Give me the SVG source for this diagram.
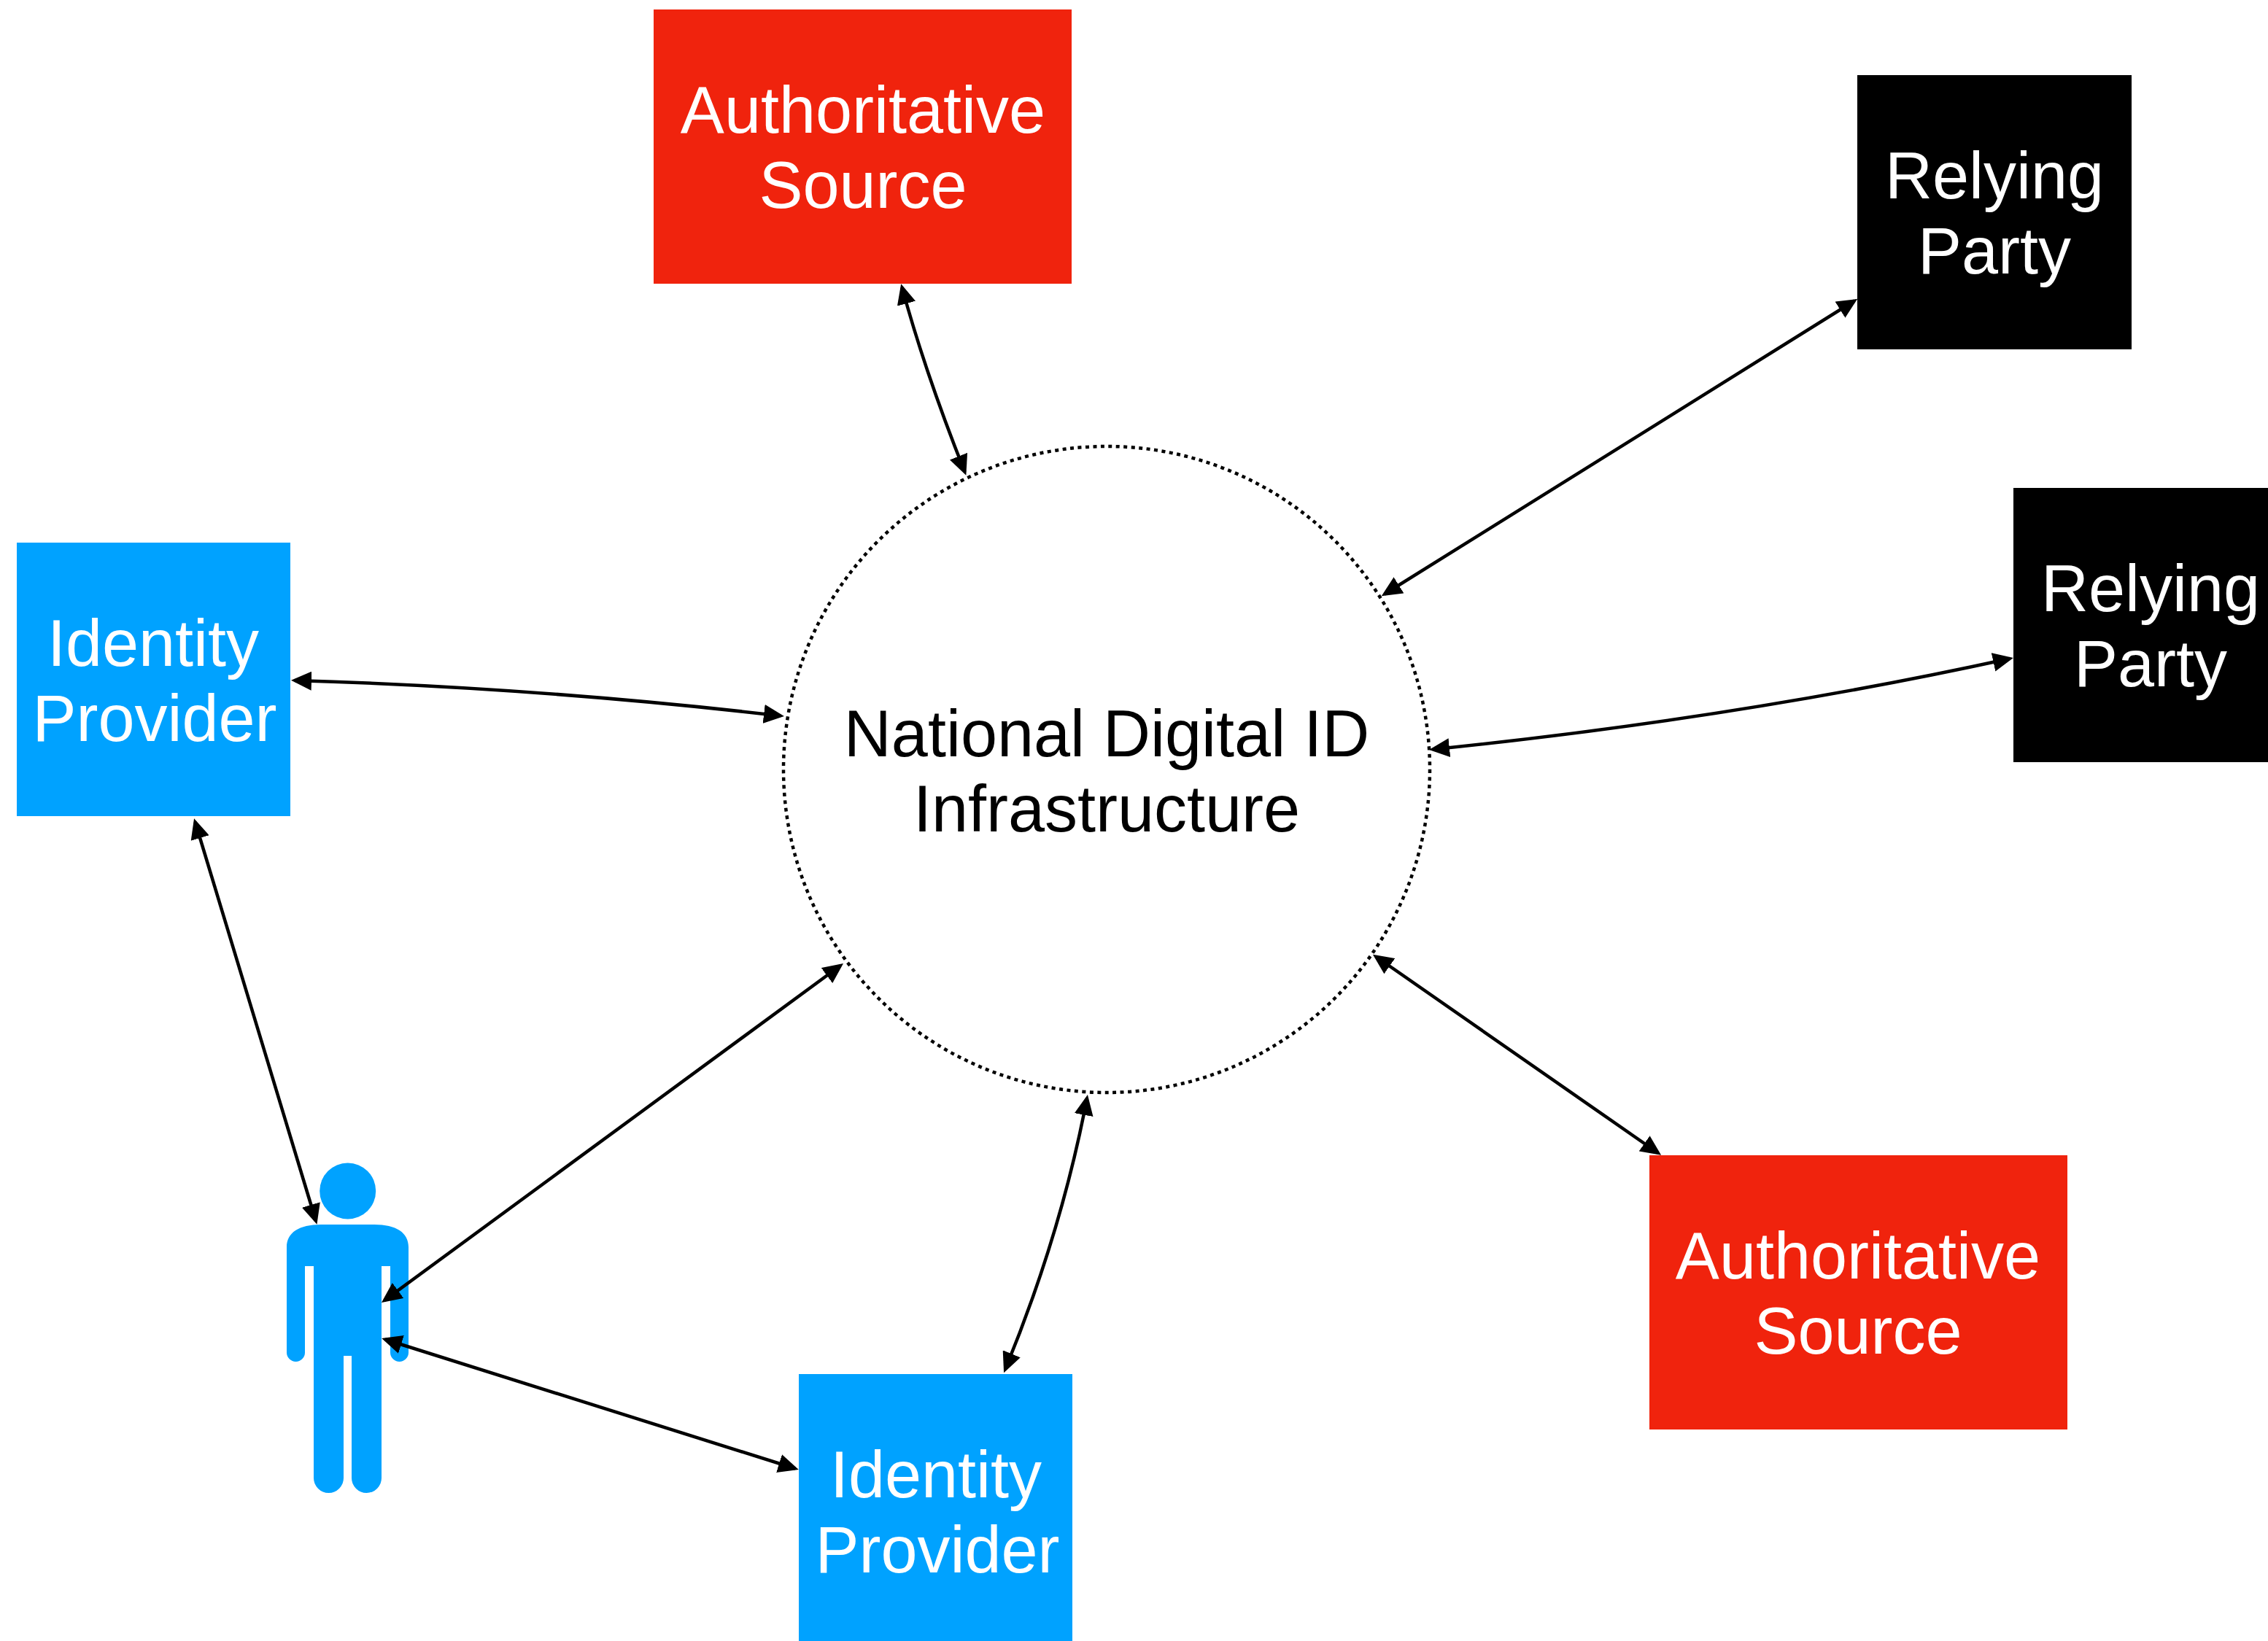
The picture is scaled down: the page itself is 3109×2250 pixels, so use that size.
<svg xmlns="http://www.w3.org/2000/svg" width="3109" height="2250" viewBox="0 0 3109 2250">
<style>
.t{font-family:"Liberation Sans",Arial,sans-serif;font-size:90px;text-anchor:middle;fill:#fff}
.k{fill:#000}
.c{fill:none;stroke:#000;stroke-width:4.5;marker-start:url(#a);marker-end:url(#a)}
.blue{fill:#00a2ff}.red{fill:#f0230d}.black{fill:#000}
</style>
<defs><marker id="a" markerUnits="userSpaceOnUse" markerWidth="28" markerHeight="26" viewBox="0 0 28 26" refX="23" refY="13" orient="auto-start-reverse"><path d="M0 0L28 13L0 26Z" fill="#000"/></marker></defs>
<rect width="3109" height="2250" fill="#fff"/>
<g id="hub"><circle cx="1517" cy="1055" r="443" fill="none" stroke="#000" stroke-width="4.5" stroke-dasharray="5 5.5"/>
<text class="t k" x="1517" y="1037">National Digital ID</text><text class="t k" x="1517" y="1140">Infrastructure</text></g>
<g id="auth1"><rect class="red" x="896" y="13" width="573" height="376"/><text class="t" x="1183" y="182">Authoritative</text><text class="t" x="1183" y="285">Source</text></g>
<g id="rp1"><rect class="black" x="2546" y="103" width="376" height="376"/><text class="t" x="2734" y="272">Relying</text><text class="t" x="2734" y="375">Party</text></g>
<g id="rp2"><rect class="black" x="2760" y="669" width="376" height="376"/><text class="t" x="2948" y="838">Relying</text><text class="t" x="2948" y="941">Party</text></g>
<g id="auth2"><rect class="red" x="2261" y="1584" width="573" height="376"/><text class="t" x="2547" y="1753">Authoritative</text><text class="t" x="2547" y="1856">Source</text></g>
<g id="idp1"><rect class="blue" x="23" y="744" width="375" height="375"/><text class="t" x="210" y="913">Identity</text><text class="t" x="212" y="1016">Provider</text></g>
<g id="idp2"><rect class="blue" x="1095" y="1884" width="375" height="375"/><text class="t" x="1283" y="2053">Identity</text><text class="t" x="1285" y="2156">Provider</text></g>
<g id="person"><circle class="blue" cx="476.7" cy="1633" r="38.5"/>
<path class="blue" d="M393 1710C393 1690 410 1679 440 1679H513C543 1679 560 1690 560 1710V1854.500A12.500 12.500 0 0 1 535 1854.500V1736H523V2026.500A20.500 20.500 0 0 1 482 2026.500V1859H471V2026.500A20.500 20.500 0 0 1 430 2026.500V1736H418V1854.500A12.500 12.500 0 0 1 393 1854.500Z"/></g>
<g id="connectors">
<path class="c" d="M1236.500 394Q1268 510 1322.500 647"/>
<path class="c" d="M2542 412.500L1898 814.500"/>
<path class="c" d="M2755 903Q2380 985 1964 1027.500"/>
<path class="c" d="M1886 1311.500L2273 1581"/>
<path class="c" d="M1490 1506Q1455 1690 1378 1877.500"/>
<path class="c" d="M1152 1324L527 1783"/>
<path class="c" d="M528 1836.500L1090 2013.500"/>
<path class="c" d="M433 1674L267.500 1127"/>
<path class="c" d="M404 933Q740 943 1070 981.500"/>
</g>
</svg>
